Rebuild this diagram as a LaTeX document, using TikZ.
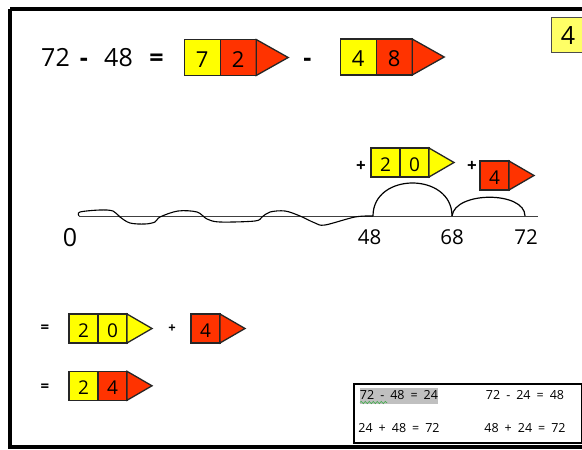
\documentclass[tikz,border=0pt]{standalone}
\usepackage{fontspec}
\setmainfont{Open Sans}
\usetikzlibrary{positioning}
\usetikzlibrary{decorations.pathmorphing}
\definecolor{arrowyellow}{RGB}{255,255,0}
\definecolor{arrowred}{RGB}{255,51,0}
\definecolor{cornerfill}{RGB}{255,255,102}
\definecolor{markgray}{RGB}{192,192,192}
\definecolor{squiggle}{RGB}{60,170,70}
\newcommand{\factgap}{\spaceskip=6pt\relax}
\tikzset{
  cell/.style={draw=black!85,line width=1.3pt,inner sep=0pt,outer sep=0pt,minimum width=#1,minimum height=#1,text height=17.6pt,text depth=0pt,font=\fontsize{19}{19}\selectfont},
  cell/.default=29pt,
  ycell/.style={cell=#1,fill=arrowyellow},
  ycell/.default=29pt,
  rcell/.style={cell=#1,fill=arrowred},
  rcell/.default=29pt,
  bigcell/.style={text height=19pt,font=\fontsize{22}{22}\selectfont},
  ytip/.style={draw=black!85,line width=1.3pt,line join=miter,fill=arrowyellow},
  rtip/.style={draw=black!85,line width=1.3pt,line join=miter,fill=arrowred},
  headtext/.style={inner sep=0pt,text height=18pt,text depth=0pt,font=\fontsize{25}{25}\selectfont},
  headop/.style={headtext,font=\bfseries\fontsize{25}{25}\selectfont},
  marktext/.style={inner sep=0pt,font=\fontsize{20.5}{20.5}\selectfont},
  optext/.style={inner sep=0pt,font=\bfseries\fontsize{17}{17}\selectfont},
  smalltext/.style={inner sep=0pt,font=\fontsize{12.5}{12.5}\selectfont}
}
\begin{document}
\begin{tikzpicture}[x=1pt,y=-1pt,line cap=butt]
\useasboundingbox (0,0) rectangle (582,450);
\fill[white] (0,0) rectangle (582,450);
% frame
\draw[line width=4.5pt] (10,9) -- (582,9);
\draw[line width=4.5pt] (10,9) -- (10,447) -- (582,447);
% corner box
\node[draw=black!70,line width=1pt,fill=cornerfill,minimum width=40pt,minimum height=35.5pt,inner sep=0pt] (corner) at (571,35.2) {};
\node[headtext] (cornerfour) at (568,35) {4};
% top line
\node[headtext] (h72) at (55.5,57) {72};
\node[headop] (hminus) at (84,57) {-};
\node[headtext] (h48) at (118.5,57) {48};
\node[headop] (heq) at (156.5,57.5) {=};
\node[ycell=36pt,bigcell] (a1) at (202.2,57.5) {7};
\node[rcell=36pt,bigcell,right=0pt of a1] (a2) {2};
\filldraw[rtip] (a2.north east) -- ++(32,18) -- (a2.south east) -- cycle;
\node[headop] (hminustwo) at (307.5,57) {-};
\node[ycell=36pt,bigcell] (b1) at (358.2,57) {4};
\node[rcell=36pt,bigcell,right=0pt of b1] (b2) {8};
\filldraw[rtip] (b2.north east) -- ++(32,18) -- (b2.south east) -- cycle;
% number line
\coordinate (p0) at (79,216);
\coordinate (p48) at (373,216);
\coordinate (p68) at (452,216);
\coordinate (p72) at (525,216);
\coordinate (pend) at (538,216);
\draw[line width=1pt,black!75] (p0) -- (pend);
\draw[line width=1.1pt] plot[smooth,tension=0.55] coordinates {(79,216) (80,212) (100,210) (113,211) (120,217) (130,223) (145,224) (155,222) (160,217) (178,211) (197,212) (207,219) (220,222) (255,221) (262,217) (270,212) (285,211) (300,216) (315,223) (325,225) (355,217) (373,216)};
\draw[line width=1.2pt] (p48) .. controls (373,172) and (452,172) .. (p68);
\draw[line width=1.2pt] (p68) .. controls (455,191) and (525,191) .. (p72);
\node[headtext] (t0) at (70,237) {0};
\node[marktext] (t48) at (369.5,237) {48};
\node[marktext] (t68) at (452,237) {68};
\node[marktext] (t72) at (526,237) {72};
% jumps
\node[optext] (plusa) at (361,166.5) {+};
\node[ycell] (c1) at (385.5,162.5) {2};
\node[ycell,right=0pt of c1] (c2) {0};
\filldraw[ytip] (c2.north east) -- ++(25,14.5) -- (c2.south east) -- cycle;
\node[optext] (plusb) at (472,166.5) {+};
\node[rcell] (d1) at (494.5,175.5) {4};
\filldraw[rtip] (d1.north east) -- ++(25,14.5) -- (d1.south east) -- cycle;
% result lines
\node[optext,font=\bfseries\fontsize{15}{15}\selectfont] (eqa) at (45,329) {=};
\node[ycell] (e1) at (83.5,328.5) {2};
\node[ycell,right=0pt of e1] (e2) {0};
\filldraw[ytip] (e2.north east) -- ++(25,14.5) -- (e2.south east) -- cycle;
\node[optext,font=\bfseries\fontsize{13}{13}\selectfont] (plusc) at (172,328.5) {+};
\node[rcell] (f1) at (205.5,328.5) {4};
\filldraw[rtip] (f1.north east) -- ++(25,14.5) -- (f1.south east) -- cycle;
\node[optext,font=\bfseries\fontsize{15}{15}\selectfont] (eqb) at (45,387.5) {=};
\node[ycell] (g1) at (83.5,385.8) {2};
\node[rcell,right=0pt of g1] (g2) {4};
\filldraw[rtip] (g2.north east) -- ++(25,14.5) -- (g2.south east) -- cycle;
% fact box
\draw[line width=2pt] (354,384) rectangle (581.5,442.5);
\fill[markgray] (360,388) rectangle (438,404);
\draw[squiggle,line width=0.6pt,decorate,decoration={snake,amplitude=1.1pt,segment length=4pt}] (360,402.5) -- (387,402.5);
\node[smalltext] (facta) at (399,395.5) {\factgap 72 - 48 = 24};
\node[smalltext] (factb) at (525,395.5) {\factgap 72 - 24 = 48};
\node[smalltext] (factc) at (399,428) {\factgap 24 + 48 = 72};
\node[smalltext] (factd) at (525,428) {\factgap 48 + 24 = 72};
\end{tikzpicture}
\end{document}
